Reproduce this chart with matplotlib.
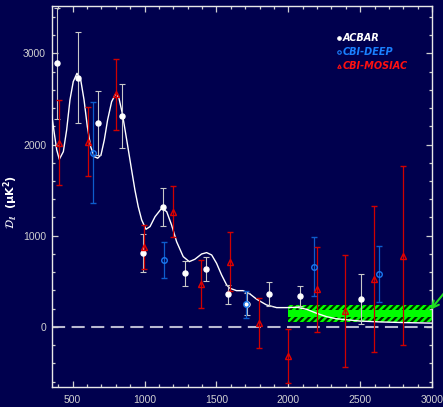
import matplotlib.pyplot as plt
from matplotlib.ticker import MultipleLocator

BG = '#00004e'
FG = '#d0d0d0'

# ACBAR band powers
acbar_l = [391, 539, 678, 845, 987, 1126, 1279, 1427, 1582, 1714, 1867, 2081, 2505]
acbar_d = [2890, 2734, 2240, 2313, 808, 1312, 589, 632, 358, 252, 362, 340, 310]
acbar_e = [610, 500, 350, 355, 207, 207, 135, 133, 105, 118, 132, 110, 275]

# CBI deep field
deep_l = [639, 1133, 1705, 2180, 2628]
deep_d = [1911, 734, 249, 661, 581]
deep_e = [550, 199, 150, 325, 307]

# CBI mosaic
mos_l = [407, 604, 801, 998, 1195, 1394, 1594, 1798, 1995, 2199, 2398, 2597, 2797]
mos_d = [2021, 2031, 2551, 880, 1264, 471, 716, 40, -318, 413, 175, 526, 782]
mos_e = [470, 375, 390, 243, 283, 264, 325, 275, 300, 465, 610, 800, 980]

# model spectrum
model_l = [354, 372, 389, 407, 435, 458, 481, 504, 530, 556, 579, 602, 625, 650,
           674, 697, 720, 743, 771, 799, 822, 845, 876, 910, 933, 956, 980, 1010,
           1038, 1073, 1119, 1154, 1188, 1223, 1269, 1311, 1350, 1397, 1432, 1467,
           1501, 1536, 1571, 1594, 1640, 1686, 1733, 1780, 1849, 1919, 1988, 2058,
           2127, 2197, 2266, 2333, 2496, 2640, 2800, 3000]
model_d = [2325, 2124, 1941, 1838, 1922, 2160, 2489, 2690, 2781, 2708, 2489, 2196,
           1977, 1867, 1850, 1886, 2050, 2270, 2470, 2555, 2508, 2343, 2050, 1721,
           1502, 1319, 1173, 1071, 1100, 1209, 1301, 1264, 1118, 935, 771, 716, 742,
           800, 815, 789, 698, 570, 461, 424, 398, 398, 362, 304, 241, 212, 212, 216,
           194, 150, 113, 90, 65, 55, 48, 42]

# high-l excess band (outer / inner)
band_l = [2000, 3000]
band_outer = [55, 240]
band_inner = [110, 190]

plt.rcParams['hatch.linewidth'] = 1.6

fig = plt.figure(figsize=(4.43, 4.07), dpi=100, facecolor=BG)
ax = fig.add_axes([0.1167, 0.0499, 0.9752 - 0.1167, 0.986 - 0.0499])
ax.set_facecolor(BG)

ax.fill_between(band_l, band_outer[0], band_outer[1], facecolor='#00ff00',
                edgecolor='#002800', hatch='/////', linewidth=0, zorder=1)
ax.fill_between(band_l, band_inner[0], band_inner[1], facecolor='#00ff00',
                linewidth=0, zorder=1.5)

ax.axhline(0, color='#b8b8d0', lw=1.5, dashes=(6.3, 3.1), zorder=1)

ax.plot(model_l, model_d, color='white', lw=1.0, zorder=3)

ax.errorbar(acbar_l, acbar_d, yerr=acbar_e, fmt='o', ms=3.6, mfc='white', mec='white',
            ecolor='#c8c8c8', elinewidth=0.8, capsize=2.0, capthick=0.8, zorder=4)
ax.errorbar(deep_l, deep_d, yerr=deep_e, fmt='o', ms=4, mfc='none', mec='#1a78f0',
            mew=1.0, ecolor='#0e5ccc', elinewidth=0.9, capsize=2.0, capthick=0.9, zorder=4)
ax.errorbar(mos_l, mos_d, yerr=mos_e, fmt='^', ms=4, mfc='none', mec='#e00000',
            mew=1.0, ecolor='#d00000', elinewidth=0.9, capsize=2.0, capthick=0.9, zorder=4)

ax.annotate('', xy=(2990, 190), xytext=(3130, 460), annotation_clip=False,
            arrowprops=dict(arrowstyle='->', color='#20e020', lw=1.5,
                            mutation_scale=12, shrinkA=0, shrinkB=0))

ax.set_xlim(354, 3000)
ax.set_ylim(-655, 3522)

ax.xaxis.set_major_locator(MultipleLocator(500))
ax.xaxis.set_minor_locator(MultipleLocator(100))
ax.yaxis.set_major_locator(MultipleLocator(1000))
ax.yaxis.set_minor_locator(MultipleLocator(200))
ax.tick_params(which='both', direction='in', top=True, right=True, colors=FG,
               width=0.9, labelsize=7.5, labelfontfamily='Liberation Sans')
ax.tick_params(which='major', length=4.5)
ax.tick_params(which='minor', length=2.2)
ax.tick_params(axis='x', pad=6)
ax.tick_params(axis='y', pad=4)
for side in ax.spines.values():
    side.set_color('#e8e8e8')
    side.set_linewidth(1.0)

fig.text(0.025, 0.504, r'$\mathbf{\mathcal{D}_\ell\ \ (\mu K^2)}$', rotation=90,
         color='white', fontsize=8, ha='center', va='center')

# legend written by hand
legend_rows = [('ACBAR', 'white', 'o', 'white'),
               ('CBI-DEEP', '#1a80ff', 'o', 'none'),
               ('CBI-MOSIAC', '#ff1010', '^', 'none')]
for i, (name, col, mk, face) in enumerate(legend_rows):
    y = 0.914 - i * 0.036
    ax.plot([0.756], [y], marker=mk, ms=2.5, mfc=col if face != 'none' else 'none',
            mec=col, mew=0.8, transform=ax.transAxes, clip_on=False)
    ax.text(0.765, y, name, color=col, fontsize=7, fontweight='bold', style='italic',
            ha='left', va='center', transform=ax.transAxes)

fig.savefig('out.png', dpi=100, facecolor=BG)
